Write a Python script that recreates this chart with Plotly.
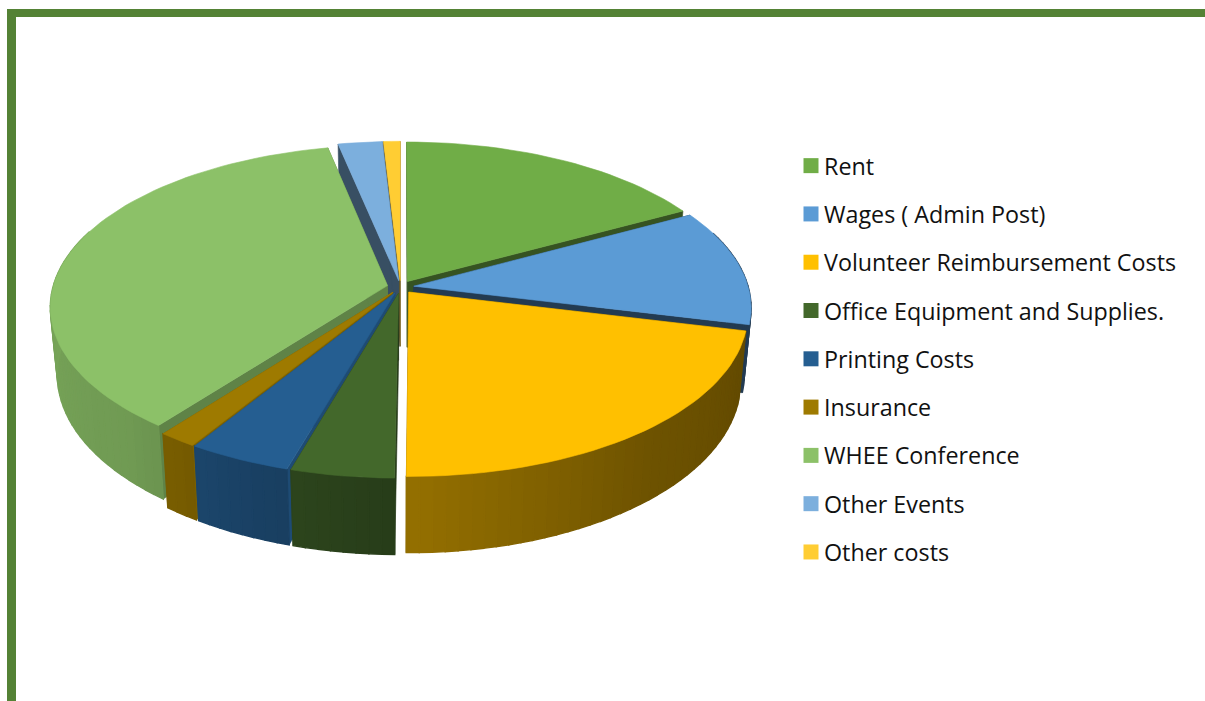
import numpy as np
import plotly.graph_objects as go

categories = ["Rent", "Wages ( Admin Post)", "Volunteer Reimbursement Costs",
              "Office Equipment and Supplies.", "Printing Costs", "Insurance",
              "WHEE Conference", "Other Events", "Other costs"]
values = [17.1, 11.65, 21.35, 4.35, 4.35, 1.6, 36.2, 2.4, 0.9]
colors = ["#70AD47", "#5B9BD5", "#FFC000", "#43682B", "#255E91", "#9E7A00",
          "#8CC168", "#7CAFDD", "#FFCD33"]
radial_shade = [0.48, 0.38, 0.45, 0.55, 0.8, 0.8, 0.68, 0.45, 0.45]
draw_order = [8, 7, 0, 1, 6, 5, 4, 3, 2]

# projection of the tilted disc
CX, CY = 400.5, 287.0
R, S, P = 334.5, 159.0, 0.13
DEPTH, BOTTOM_SCALE = 66.0, 0.98
EXPLODE = 0.04
ARC_STEP = 2.0
shade_angle = [100, 140, 180, 200, 225, 270]
shade_value = [0.38, 0.43, 0.58, 0.68, 0.80, 0.85]


def project(u, v, bottom=False):
    u, v = np.asarray(u, float), np.asarray(v, float)
    w = 1 + P * v
    x = CX + R * u / w
    y = CY - S * v / w
    if bottom:
        x = CX + (x - CX) * BOTTOM_SCALE
        y = y + DEPTH / w
    return x, y


def darken(hex_color, f):
    rgb = [int(hex_color[i:i + 2], 16) for i in (1, 3, 5)]
    return "rgb(%d,%d,%d)" % tuple(round(c * f) for c in rgb)


fig = go.Figure()


def poly(x, y, color, lw=0.6):
    x, y = list(x), list(y)
    fig.add_trace(go.Scatter(x=x + x[:1], y=y + y[:1], mode="lines", fill="toself",
                             fillcolor=color, line=dict(color=color, width=lw),
                             showlegend=False, hoverinfo="skip"))


edges = np.concatenate([[0], np.cumsum(values)]) / np.sum(values) * 360.0

for i in draw_order:
    a0, a1 = edges[i], edges[i + 1]
    mid = np.radians((a0 + a1) / 2)
    ou, ov = EXPLODE * np.sin(mid), EXPLODE * np.cos(mid)
    n = max(2, int(np.ceil((a1 - a0) / ARC_STEP)) + 1)
    th = np.linspace(a0, a1, n)
    ur, vr = ou + np.sin(np.radians(th)), ov + np.cos(np.radians(th))
    wall = darken(colors[i], radial_shade[i])
    # radial faces
    for k in (0, -1):
        xt, yt = project([ou, ur[k]], [ov, vr[k]])
        xb, yb = project([ou, ur[k]], [ov, vr[k]], bottom=True)
        poly(list(xt) + list(xb[::-1]), list(yt) + list(yb[::-1]), wall)
    # outer wall, one strip per arc step so its shade can vary
    xt, yt = project(ur, vr)
    xb, yb = project(ur, vr, bottom=True)
    for k in range(n - 1):
        am = (th[k] + th[k + 1]) / 2
        if np.cos(np.radians(am)) > 0.35:
            continue
        f = float(np.interp(am if am > 90 else 100, shade_angle, shade_value))
        poly([xt[k], xt[k + 1], xb[k + 1], xb[k]], [yt[k], yt[k + 1], yb[k + 1], yb[k]],
             darken(colors[i], f), lw=1.4)
    # top face
    px, py = project(np.r_[ou, ur], np.r_[ov, vr])
    poly(px, py, colors[i])

for name, c in zip(categories, colors):
    fig.add_trace(go.Scatter(x=[None], y=[None], mode="markers", name=name, legendgroup=name,
                             marker=dict(symbol="square", size=15, color=c), hoverinfo="skip"))

GREEN = "#548235"
fig.update_layout(
    width=1205, height=701, margin=dict(l=0, r=0, t=0, b=0),
    paper_bgcolor="white", plot_bgcolor="white",
    xaxis=dict(range=[0, 1205], visible=False, fixedrange=True),
    yaxis=dict(range=[701, 0], visible=False, fixedrange=True),
    legend=dict(x=784 / 1205, y=1 - 144 / 701, xanchor="left", yanchor="top",
                font=dict(family="Open Sans", size=23.3, color="#111111"),
                tracegroupgap=15, bgcolor="rgba(0,0,0,0)", itemclick=False, itemdoubleclick=False),
    shapes=[
        dict(type="rect", xref="x", yref="y", x0=7, x1=16, y0=9, y1=701, fillcolor=GREEN, line_width=0),
        dict(type="rect", xref="x", yref="y", x0=7, x1=1205, y0=9, y1=17, fillcolor=GREEN, line_width=0),
    ],
)
page_fix = ("document.body.style.margin='0';"
            "document.querySelectorAll('.legend .legendpoints').forEach(function(g){"
            "g.style.transform='translate(7px,0)';});")
fig.write_html("out.html", config=dict(displayModeBar=False), post_script=page_fix)
